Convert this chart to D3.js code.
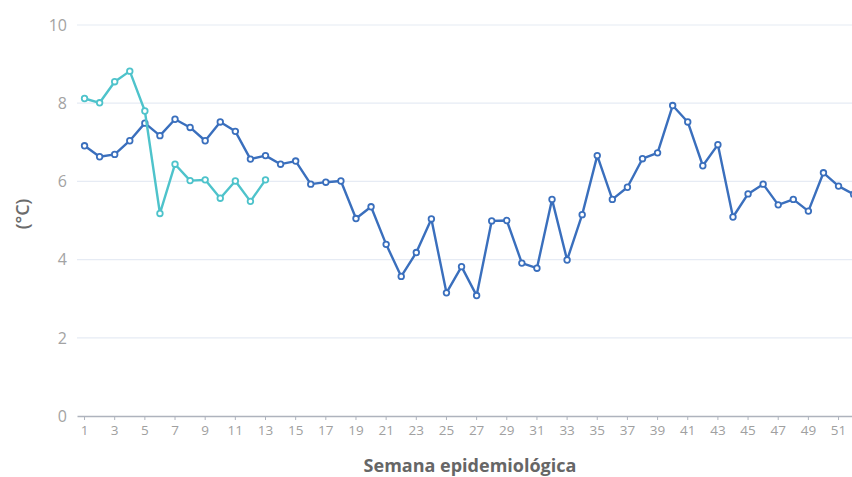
<!DOCTYPE html>
<html>
<head>
<meta charset="utf-8">
<script src="https://cdn.jsdelivr.net/npm/d3@7/dist/d3.min.js"></script>
<style>
  html, body { margin: 0; padding: 0; background: #fff; overflow: hidden; }
  svg { display: block; font-family: "Open Sans", "Noto Sans", sans-serif; }
</style>
</head>
<body>
<svg id="chart" width="852" height="477"></svg>
<script>
const weeks = d3.range(1, 53);
const yTicks = [0, 2, 4, 6, 8, 10];
const seriesDark = [6.91, 6.63, 6.69, 7.04, 7.49, 7.17, 7.59, 7.38, 7.04, 7.52,
  7.28, 6.57, 6.66, 6.44, 6.52, 5.93, 5.98, 6.01, 5.05, 5.35,
  4.39, 3.57, 4.18, 5.04, 3.15, 3.82, 3.08, 4.99, 5.0, 3.91,
  3.78, 5.54, 3.99, 5.15, 6.66, 5.54, 5.85, 6.58, 6.73, 7.94,
  7.52, 6.40, 6.94, 5.09, 5.68, 5.93, 5.40, 5.54, 5.24, 6.22,
  5.88, 5.67];
const seriesTeal = [8.12, 8.01, 8.55, 8.82, 7.80, 5.18, 6.44, 6.02, 6.04, 5.57,
  6.01, 5.49, 6.04];
const xLabels = weeks.filter(w => w % 2 === 1);
const xTitle = "Semana epidemiológica";
const yTitle = "(°C)";

const svg = d3.select("#chart");
const left = 77, bandW = 15.08;
const x = d3.scaleBand().domain(weeks).range([left, left + bandW * weeks.length]).padding(0);
const y = d3.scaleLinear().domain([0, 10]).range([416, 25]);
const cx = w => x(w) + x.bandwidth() / 2;

// grid
svg.append("g").selectAll("line").data(yTicks.filter(t => t > 0)).join("line")
  .attr("x1", left).attr("x2", 852)
  .attr("y1", d => y(d)).attr("y2", d => y(d))
  .attr("stroke", "#e6ebf4").attr("stroke-width", 1.2);

// y labels
svg.append("g").selectAll("text").data(yTicks).join("text")
  .attr("x", 67).attr("y", d => y(d)).attr("dy", "0.36em")
  .attr("text-anchor", "end").attr("fill", "#a3a3a3").attr("font-size", 16)
  .text(d => d);

// x axis
const xAxis = d3.axisBottom(x).tickValues(xLabels).tickSize(4).tickPadding(5).tickSizeOuter(0);
const gx = svg.append("g").attr("transform", "translate(0,416)").call(xAxis);
gx.select(".domain").attr("stroke", "#aeb3bd").attr("stroke-width", 1.3);
gx.selectAll(".tick line").attr("stroke", "#aeb3bd");
gx.selectAll(".tick text").attr("fill", "#a0a0a0").attr("font-size", 13.5)
  .attr("font-family", "'Open Sans', sans-serif");

// titles
svg.append("text").attr("x", 470).attr("y", 472).attr("text-anchor", "middle")
  .attr("font-weight", "bold").attr("font-size", 18).attr("fill", "#666").text(xTitle);
svg.append("text").attr("transform", "translate(29,214) rotate(-90)").attr("text-anchor", "middle")
  .attr("font-weight", 600).attr("font-size", 18).attr("fill", "#6b6b6b").text(yTitle);

function drawSeries(vals, color) {
  const data = vals.map((v, i) => ({ w: weeks[i], v }));
  const line = d3.line().x(d => cx(d.w)).y(d => y(d.v));
  svg.append("path").datum(data).attr("d", line)
    .attr("fill", "none").attr("stroke", color).attr("stroke-width", 2.4)
    .attr("stroke-linejoin", "round");
  svg.append("g").selectAll("circle").data(data).join("circle")
    .attr("cx", d => cx(d.w)).attr("cy", d => y(d.v)).attr("r", 2.8)
    .attr("fill", "#fff").attr("stroke", color).attr("stroke-width", 1.8);
}
drawSeries(seriesDark, "#3a6fbd");
drawSeries(seriesTeal, "#4ec3cb");
</script>
</body>
</html>
